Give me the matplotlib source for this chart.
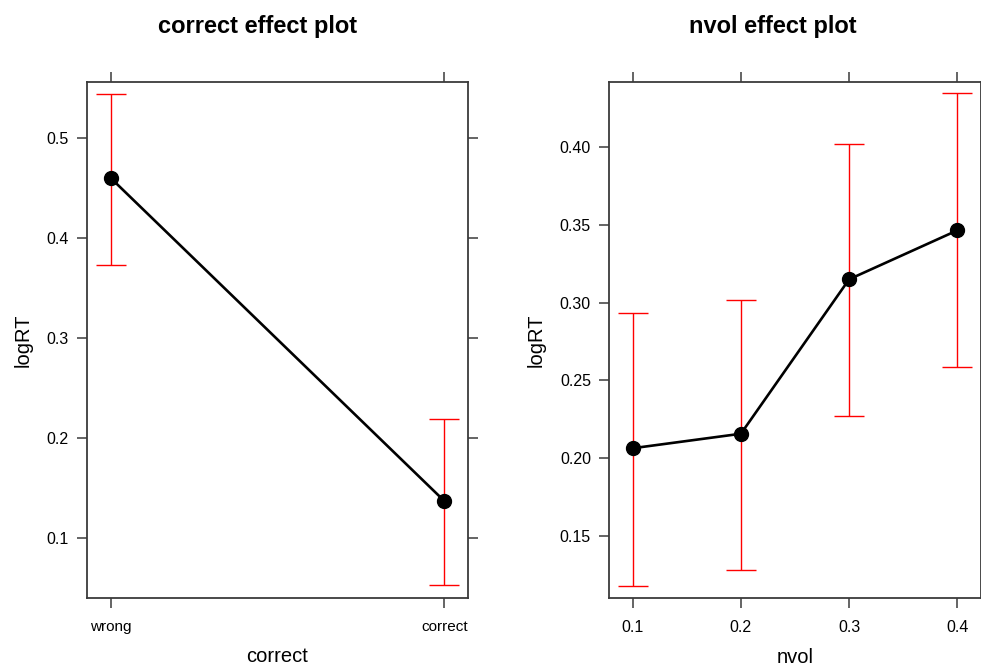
import matplotlib
matplotlib.use("Agg")
import matplotlib.pyplot as plt

plt.rcParams['font.family'] = ['Liberation Sans', 'DejaVu Sans']

# Effect of "correct" (factor)
correct_levels = ["wrong", "correct"]
correct_fit = [0.460, 0.137]
correct_lower = [0.373, 0.053]
correct_upper = [0.544, 0.219]

# Effect of "nvol" (numeric)
nvol_levels = [0.1, 0.2, 0.3, 0.4]
nvol_fit = [0.2065, 0.2158, 0.3149, 0.3463]
nvol_lower = [0.1183, 0.1286, 0.2274, 0.2584]
nvol_upper = [0.2931, 0.3018, 0.4015, 0.4342]

left_yticks = [0.1, 0.2, 0.3, 0.4, 0.5]
right_yticks = [0.15, 0.20, 0.25, 0.30, 0.35, 0.40]

W, H = 981, 666
fig = plt.figure(figsize=(W / 100, H / 100), dpi=100)

frame_col = "#3a3a3a"


def panel(px0, py0, px1, py1):
    return fig.add_axes([px0 / W, 1 - py1 / H, (px1 - px0) / W, (py1 - py0) / H])


def style(ax):
    for s in ax.spines.values():
        s.set_color(frame_col)
        s.set_linewidth(1.3)
    ax.tick_params(direction="out", length=7, width=1.1, color=frame_col,
                   top=True, right=True, labeltop=False, labelright=False,
                   labelsize=11.5, pad=6)
    ax.tick_params(axis="x", pad=9)


def draw_effect(ax, x, fit, lo, hi):
    yerr = [[f - l for f, l in zip(fit, lo)], [h - f for f, h in zip(fit, hi)]]
    ax.errorbar(x, fit, yerr=yerr, fmt="none", ecolor="#ff0000",
                elinewidth=1.0, capsize=11, capthick=1.0, zorder=2)
    ax.plot(x, fit, color="black", linewidth=1.9, marker="o",
            markersize=10, zorder=3)


# left panel
ax1 = panel(87, 82, 468, 598)
xpos = [1, 2]
draw_effect(ax1, xpos, correct_fit, correct_lower, correct_upper)
ax1.set_xlim(0.929, 2.071)
ax1.set_ylim(0.040, 0.556)
ax1.set_xticks(xpos)
ax1.set_xticklabels(correct_levels)
ax1.set_yticks(left_yticks)
ax1.set_yticklabels([f"{v:.1f}" for v in left_yticks])
style(ax1)
ax1.tick_params(axis="x", labelsize=11)
ax1.set_xlabel("correct", fontsize=14.5, labelpad=9)
ax1.set_ylabel("logRT", fontsize=14.5, labelpad=10)

# right panel
ax2 = panel(609, 82, 980.6, 598)
draw_effect(ax2, nvol_levels, nvol_fit, nvol_lower, nvol_upper)
ax2.set_xlim(0.0781, 0.4215)
ax2.set_ylim(0.1104, 0.4415)
ax2.set_xticks(nvol_levels)
ax2.set_xticklabels([f"{v:.1f}" for v in nvol_levels])
ax2.set_yticks(right_yticks)
ax2.set_yticklabels([f"{v:.2f}" for v in right_yticks])
style(ax2)
ax2.set_xlabel("nvol", fontsize=14.5, labelpad=9)
ax2.set_ylabel("logRT", fontsize=14.5, labelpad=10)

fig.text(258 / W, 1 - 27 / H, "correct effect plot", ha="center", va="center",
         fontsize=17, fontweight="bold")
fig.text(773 / W, 1 - 27 / H, "nvol effect plot", ha="center", va="center",
         fontsize=17, fontweight="bold")

fig.savefig("out.png", dpi=100, facecolor="white")
